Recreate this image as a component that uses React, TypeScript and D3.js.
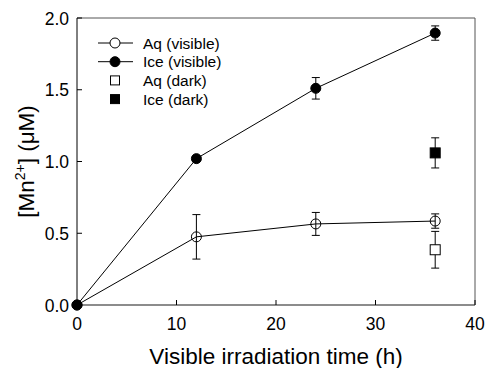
import React from 'react';
import * as d3 from 'd3';

// irradiation time (h)
const timesVisible = [0, 12, 24, 36];
const aqVisible = [0, 0.475, 0.565, 0.585];
const aqVisibleErr = [0, 0.155, 0.08, 0.05];
const iceVisible = [0, 1.02, 1.51, 1.895];
const iceVisibleErr = [0, 0, 0.075, 0.05];

const timesDark = [36];
const aqDark = [0.385];
const aqDarkErr = [0.128];
const iceDark = [1.06];
const iceDarkErr = [0.105];

const xTicks = [0, 10, 20, 30, 40];
const yTicks = [0, 0.5, 1.0, 1.5, 2.0];

const legendItems = [
  {label: 'Aq (visible)', shape: 'circle', filled: false, line: true},
  {label: 'Ice (visible)', shape: 'circle', filled: true, line: true},
  {label: 'Aq (dark)', shape: 'square', filled: false, line: false},
  {label: 'Ice (dark)', shape: 'square', filled: true, line: false},
];

const width = 486;
const height = 368;
const margin = {top: 18, right: 11, bottom: 63, left: 77};
const font = 'Arial, "Liberation Sans", sans-serif';

const ErrorBar = ({x, y, err, sx, sy}) => {
  if (!err) return null;
  const cx = sx(x);
  const top = sy(y + err);
  const bot = sy(y - err);
  return (
    <g stroke="#000" strokeWidth={1}>
      <line x1={cx} x2={cx} y1={top} y2={bot} />
      <line x1={cx - 4} x2={cx + 4} y1={top} y2={top} />
      <line x1={cx - 4} x2={cx + 4} y1={bot} y2={bot} />
    </g>
  );
};

export default function App() {
  const x = d3.scaleLinear().domain([0, 40]).range([margin.left, width - margin.right]);
  const y = d3.scaleLinear().domain([0, 2]).range([height - margin.bottom, margin.top]);

  const line = d3.line().x(d => x(d[0])).y(d => y(d[1]));
  const aqPts = timesVisible.map((t, i) => [t, aqVisible[i]]);
  const icePts = timesVisible.map((t, i) => [t, iceVisible[i]]);

  const r = 5;
  const s = 10;
  const x0 = margin.left, x1 = width - margin.right;
  const y0 = height - margin.bottom, y1 = margin.top;

  return (
    <svg width={width} height={height} style={{position: 'absolute', left: 0, top: 0}} fontFamily={font}>
      <rect width={width} height={height} fill="#fff" />
      {/* frame */}
      <line x1={x0} x2={x1} y1={y1} y2={y1} stroke="#555" />
      <line x1={x1} x2={x1} y1={y1} y2={y0} stroke="#555" />
      <line x1={x0} x2={x1} y1={y0} y2={y0} stroke="#666" strokeWidth={1.5} />
      <line x1={x0} x2={x0} y1={y1} y2={y0} stroke="#000" />

      {/* ticks */}
      {xTicks.map(t => (
        <g key={'x' + t}>
          <line x1={x(t)} x2={x(t)} y1={y0} y2={y0 - 5} stroke="#000" />
          <text x={x(t)} y={y0 + 25} textAnchor="middle" fontSize={17.5}>{t}</text>
        </g>
      ))}
      {yTicks.map(t => (
        <g key={'y' + t}>
          <line x1={x0} x2={x0 + 5} y1={y(t)} y2={y(t)} stroke="#000" />
          <text x={x0 - 8} y={y(t) + 6.5} textAnchor="end" fontSize={17.5}>{t.toFixed(1)}</text>
        </g>
      ))}

      {/* axis titles */}
      <text x={(x0 + x1) / 2} y={364} textAnchor="middle" fontSize={22.5}>Visible irradiation time (h)</text>
      <text transform={`translate(34, ${(y0 + y1) / 2}) rotate(-90)`} textAnchor="middle" fontSize={22.5}>
        [Mn<tspan dy={-9} fontSize={14}>2+</tspan><tspan dy={9}>] (</tspan>μM)
      </text>

      {/* lines */}
      <path d={line(icePts)} fill="none" stroke="#000" />
      <path d={line(aqPts)} fill="none" stroke="#000" />

      {/* error bars */}
      {timesVisible.map((t, i) => (
        <ErrorBar key={'ae' + i} x={t} y={aqVisible[i]} err={aqVisibleErr[i]} sx={x} sy={y} />
      ))}
      {timesVisible.map((t, i) => (
        <ErrorBar key={'ie' + i} x={t} y={iceVisible[i]} err={iceVisibleErr[i]} sx={x} sy={y} />
      ))}
      {timesDark.map((t, i) => (
        <ErrorBar key={'ade' + i} x={t} y={aqDark[i]} err={aqDarkErr[i]} sx={x} sy={y} />
      ))}
      {timesDark.map((t, i) => (
        <ErrorBar key={'ide' + i} x={t} y={iceDark[i]} err={iceDarkErr[i]} sx={x} sy={y} />
      ))}

      {/* markers */}
      {timesVisible.map((t, i) => (
        <circle key={'a' + i} cx={x(t)} cy={y(aqVisible[i])} r={r} fill="#fff" fillOpacity={0} stroke="#000" />
      ))}
      {timesVisible.map((t, i) => (
        <circle key={'i' + i} cx={x(t)} cy={y(iceVisible[i])} r={r} fill="#000" stroke="#000" />
      ))}
      {timesDark.map((t, i) => (
        <rect key={'ad' + i} x={x(t) - s / 2} y={y(aqDark[i]) - s / 2} width={s} height={s} fill="#fff" stroke="#000" />
      ))}
      {timesDark.map((t, i) => (
        <rect key={'id' + i} x={x(t) - s / 2} y={y(iceDark[i]) - s / 2} width={s} height={s} fill="#000" stroke="#000" />
      ))}

      {/* legend */}
      {legendItems.map((d, i) => {
        const ly = 43 + i * 18.7;
        const mx = 115;
        return (
          <g key={d.label}>
            {d.line && <line x1={98} x2={133} y1={ly} y2={ly} stroke="#000" />}
            {d.shape === 'circle'
              ? <circle cx={mx} cy={ly} r={r} fill={d.filled ? '#000' : '#fff'} stroke="#000" />
              : <rect x={mx - 4.5} y={ly - 4.5} width={9} height={9} fill={d.filled ? '#000' : '#fff'} stroke="#000" />}
            <text x={143} y={ly + 5.5} fontSize={15.5}>{d.label}</text>
          </g>
        );
      })}
    </svg>
  );
}
